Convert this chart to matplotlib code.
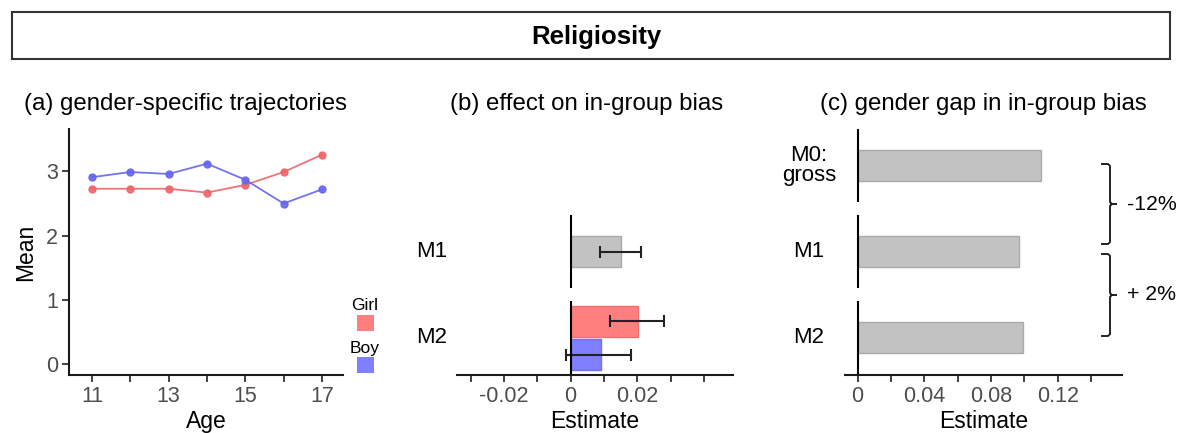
import numpy as np
import matplotlib
matplotlib.use("Agg")
import matplotlib.pyplot as plt
from matplotlib.patches import Rectangle, PathPatch
from matplotlib.path import Path

plt.rcParams['font.family'] = ['Liberation Sans', 'DejaVu Sans']

# (a) mean religiosity by age and gender
ages = [11, 12, 13, 14, 15, 16, 17]
girl_mean = [2.73, 2.73, 2.73, 2.67, 2.79, 2.99, 3.26]
boy_mean = [2.91, 2.99, 2.96, 3.12, 2.87, 2.50, 2.72]

# (b) effect on in-group bias: estimate, lower, upper
m1_effect = [0.0150, 0.0088, 0.0210]
m2_girl_effect = [0.0202, 0.0118, 0.0281]
m2_boy_effect = [0.0090, -0.0014, 0.0180]

# (c) gender gap in in-group bias
gap_models = ['M0:\ngross', 'M1', 'M2']
gap_values = [0.110, 0.0968, 0.099]
gap_changes = ['-12%', '+ 2%']

girl_line = '#EE6468'
boy_line = '#6464EE'
girl_fill = '#FF7F7F'
boy_fill = '#7F7FFF'
grey_fill = '#C2C2C2'
tick_grey = '#4D4D4D'

W, H = 1182, 433


def fig_box(left, top, right, bottom):
    return [left / W, 1 - bottom / H, (right - left) / W, (bottom - top) / H]


def fx(x):
    return x / W


def fy(y):
    return 1 - y / H


def style_axis(ax, show_left=True, show_bottom=True):
    for s in ['top', 'right']:
        ax.spines[s].set_visible(False)
    ax.spines['left'].set_visible(show_left)
    ax.spines['bottom'].set_visible(show_bottom)
    for s in ['left', 'bottom']:
        ax.spines[s].set_linewidth(1.5)
        ax.spines[s].set_color('#1a1a1a')
    ax.tick_params(direction='out', length=5, width=1.3, color='#333333',
                   labelsize=15.5, labelcolor=tick_grey, pad=3)
    if not show_bottom:
        ax.tick_params(axis='x', bottom=False, labelbottom=False)
    if not show_left:
        ax.tick_params(axis='y', left=False, labelleft=False)


def tick_labels(ticks, shown):
    out = []
    for t in ticks:
        match = [lab for v, lab in shown if abs(v - t) < 1e-9]
        out.append(match[0] if match else '')
    return out


fig = plt.figure(figsize=(W / 100, H / 100), dpi=100)

# title box
fig.patches.append(Rectangle((fx(12), fy(59)), fx(1170) - fx(12), fy(12) - fy(59),
                             transform=fig.transFigure, fill=False,
                             edgecolor='#333333', linewidth=1.5))
fig.text(fx(596), fy(37), 'Religiosity', ha='center', va='center',
         fontsize=18.5, fontweight='bold')

# ---- (a) trajectories ----
ax_a = fig.add_axes(fig_box(69, 129, 343, 375))
style_axis(ax_a)
ax_a.plot(ages, girl_mean, color=girl_line, lw=1.3, alpha=0.9,
          marker='o', markersize=5)
ax_a.plot(ages, boy_mean, color=boy_line, lw=1.3, alpha=0.9,
          marker='o', markersize=5)
ax_a.set_xlim(10.4, 17.55)
ax_a.set_ylim(-0.17, 3.66)
ax_a.set_xticks(ages)
ax_a.set_xticklabels([str(a) if a % 2 == 1 else '' for a in ages])
ax_a.set_yticks([0, 1, 2, 3])
ax_a.set_xlabel('Age', fontsize=16.5, labelpad=2)
ax_a.set_ylabel('Mean', fontsize=16.5, labelpad=6)
fig.text(fx(24), fy(104), '(a) gender-specific trajectories',
         ha='left', va='center', fontsize=17.3)

# legend
fig.text(fx(365), fy(305), 'Girl', ha='center', va='center', fontsize=12.5)
fig.patches.append(Rectangle((fx(357), fy(331)), fx(374) - fx(357), fy(315) - fy(331),
                             transform=fig.transFigure, color=girl_fill, lw=0))
fig.text(fx(365), fy(348), 'Boy', ha='center', va='center', fontsize=12.5)
fig.patches.append(Rectangle((fx(357), fy(373)), fx(374) - fx(357), fy(357) - fy(373),
                             transform=fig.transFigure, color=boy_fill, lw=0))

facet_rows = {'M0': (129, 202), 'M1': (215, 288), 'M2': (300.7, 375)}


def errbar(ax, vals, y):
    est, lo, hi = vals
    ax.errorbar(est, y, xerr=[[est - lo], [hi - est]], fmt='none',
                ecolor='#222222', elinewidth=1.5, capsize=4.5, capthick=1.5)


# ---- (b) effect on in-group bias ----
b_left, b_right = 457, 733
b_xlim = (-0.0341, 0.0487)
b_ticks = np.round(np.arange(-0.03, 0.041, 0.01), 2)
b_shown = [(-0.02, '-0.02'), (0.0, '0'), (0.02, '0.02')]

ax_b1 = fig.add_axes(fig_box(b_left, facet_rows['M1'][0], b_right, facet_rows['M1'][1]))
style_axis(ax_b1, show_left=False, show_bottom=False)
ax_b1.barh(0, m1_effect[0], height=0.52, color=grey_fill, edgecolor='#AAAAAA', lw=1)
errbar(ax_b1, m1_effect, 0)

ax_b2 = fig.add_axes(fig_box(b_left, facet_rows['M2'][0], b_right, facet_rows['M2'][1]))
style_axis(ax_b2, show_left=False, show_bottom=True)
ax_b2.barh(0.27, m2_girl_effect[0], height=0.5, color=girl_fill, edgecolor='#F07070', lw=1)
ax_b2.barh(-0.27, m2_boy_effect[0], height=0.5, color=boy_fill, edgecolor='#7070F0', lw=1)
errbar(ax_b2, m2_girl_effect, 0.27)
errbar(ax_b2, m2_boy_effect, -0.27)
ax_b2.set_xticks(b_ticks)
ax_b2.set_xticklabels(tick_labels(b_ticks, b_shown))
ax_b2.set_xlabel('Estimate', fontsize=16.5, labelpad=2)

for ax, name in [(ax_b1, 'M1'), (ax_b2, 'M2')]:
    ax.set_xlim(*b_xlim)
    ax.set_ylim(-0.6, 0.6)
    ax.axvline(0, color='black', lw=1.5)
    top, bottom = facet_rows[name]
    fig.text(fx(432), fy((top + bottom) / 2), name, ha='center', va='center', fontsize=16)
fig.text(fx(586.5), fy(104), '(b) effect on in-group bias',
         ha='center', va='center', fontsize=17.3)

# ---- (c) gender gap ----
c_left, c_right = 845, 1121.7
c_xlim = (-0.0076, 0.1584)
c_ticks = np.round(np.arange(0, 0.141, 0.02), 2)
c_shown = [(0.0, '0'), (0.04, '0.04'), (0.08, '0.08'), (0.12, '0.12')]

c_axes = []
for key, label, val in zip(['M0', 'M1', 'M2'], gap_models, gap_values):
    top, bottom = facet_rows[key]
    ax = fig.add_axes(fig_box(c_left, top, c_right, bottom))
    is_last = key == 'M2'
    style_axis(ax, show_left=False, show_bottom=is_last)
    ax.barh(0, val, height=0.5, color=grey_fill, edgecolor='#AAAAAA', lw=1)
    ax.axvline(0, color='black', lw=1.5)
    ax.set_xlim(*c_xlim)
    ax.set_ylim(-0.6, 0.6)
    if is_last:
        ax.set_xticks(c_ticks)
        ax.set_xticklabels(tick_labels(c_ticks, c_shown))
        ax.set_xlabel('Estimate', fontsize=16.5, labelpad=2)
    fig.text(fx(809), fy((top + bottom) / 2), label, ha='center', va='center',
             fontsize=16, linespacing=0.95)
    c_axes.append(ax)
fig.text(fx(983), fy(104), '(c) gender gap in in-group bias',
         ha='center', va='center', fontsize=17.3)


def brace(x_end, x_mid, x_tip, y0, y1, r=3):
    ym = (y0 + y1) / 2
    pts = [(x_end, y0), (x_mid - r, y0), (x_mid, y0), (x_mid, y0 + r),
           (x_mid, ym - r), (x_mid, ym), (x_mid + r, ym), (x_tip, ym),
           (x_mid + r, ym), (x_mid, ym), (x_mid, ym + r),
           (x_mid, y1 - r), (x_mid, y1), (x_mid - r, y1), (x_end, y1)]
    codes = [Path.MOVETO, Path.LINETO, Path.CURVE3, Path.CURVE3,
             Path.LINETO, Path.CURVE3, Path.CURVE3, Path.LINETO,
             Path.MOVETO, Path.CURVE3, Path.CURVE3,
             Path.LINETO, Path.CURVE3, Path.CURVE3, Path.LINETO]
    verts = [(fx(x), fy(y)) for x, y in pts]
    fig.patches.append(PathPatch(Path(verts, codes), transform=fig.transFigure,
                                 fill=False, edgecolor='#222222', lw=1.4))
    return ym


for (y0, y1), txt in zip([(164, 244), (254, 336)], gap_changes):
    ym = brace(1101, 1110, 1117, y0, y1)
    fig.text(fx(1127), fy(ym), txt, ha='left', va='center', fontsize=15.3)

fig.savefig('out.png', dpi=100)
